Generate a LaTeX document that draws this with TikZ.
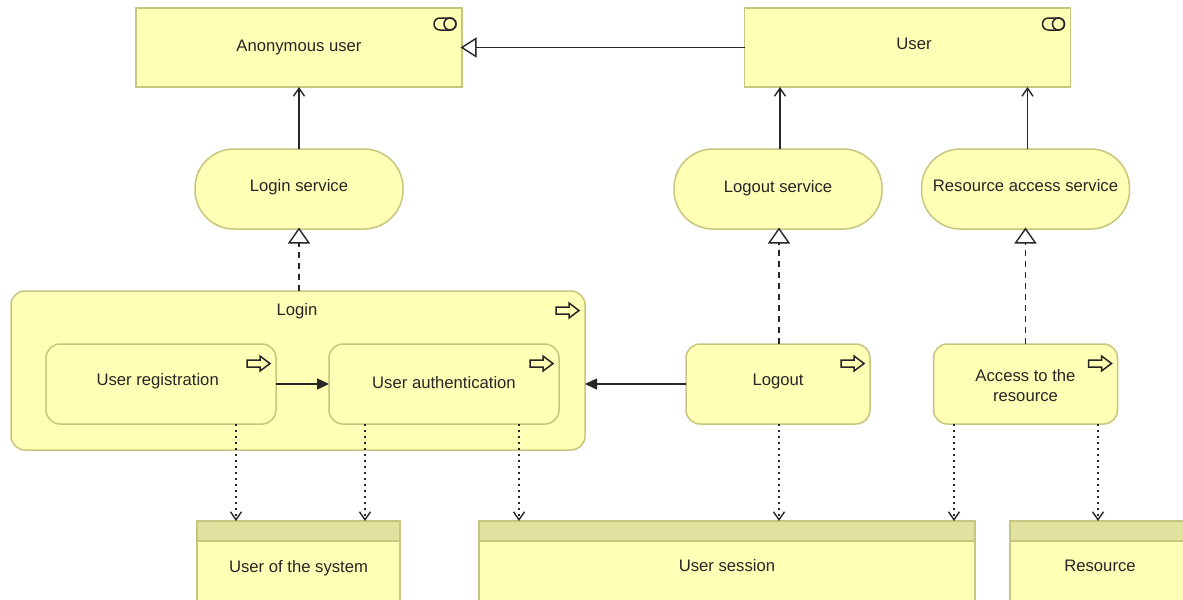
\documentclass[tikz,border=0pt]{standalone}
\usepackage{fontspec}
\setmainfont{Liberation Sans}
\usetikzlibrary{arrows.meta}
\definecolor{boxfill}{HTML}{FFFFB5}
\definecolor{boxline}{HTML}{C6C67E}
\definecolor{headfill}{HTML}{E1E1A0}
\begin{document}
\begin{tikzpicture}[x=0.75pt,y=-0.75pt]
\pgfmathsetlengthmacro\px{0.75pt};
\tikzset{
  plain/.style = {inner sep = 0, text = black!85, font = \fontsize{12.5}{15}\selectfont},
  box/.style = {plain, draw = boxline, fill = boxfill, line width = 1.5*\px, outer sep = 0, align = center},
  actor/.style = {box, minimum width = 326*\px, minimum height = 79*\px},
  service/.style = {box, rounded corners = 39*\px, minimum width = 208*\px, minimum height = 80*\px},
  process/.style = {box, rounded corners = 14*\px, minimum height = 80*\px},
  dataobj/.style = {box, minimum height = 90*\px},
  wire/.style = {line width = 1.4*\px, black!85},
  usedby/.style = {wire, -{Straight Barb[length = 8*\px, width = 11*\px]}},
  realize/.style = {wire, dash pattern = on 6*\px off 5*\px, shorten > = -1.5*\px, -{Triangle[open, fill = white, length = 16*\px, width = 22*\px]}},
  access/.style = {wire, dash pattern = on 2*\px off 4*\px, -{Straight Barb[length = 8*\px, width = 11*\px]}},
  procarrow/.pic = {\draw [draw = black!85, fill = boxfill, line width = 1.5*\px, line join = miter] (-29,16) -- (-16,16) -- (-16,12) -- (-6,19.5) -- (-16,27) -- (-16,23) -- (-29,23) -- cycle;},
  roleicon/.pic = {\draw [draw = black!85, fill = boxfill, line width = 1.5*\px, rounded corners = 5.9*\px] (-28,10) rectangle (-6,22); \draw [draw = black!85, line width = 1.5*\px] (-12,16) circle [radius = 6];}
}
\clip (0,0) rectangle (1183,600);
\fill [white] (0,0) rectangle (1183,600);
\node [actor] (anon) at (299,47.5) {Anonymous user};
\node [actor] (user) at (907.5,47.5) {};
\node [plain] (usertext) at (914,44) {User};
\node [service, text depth = 5.5pt] (loginsvc) at (299,189) {Login service};
\node [service, text depth = 4.5pt] (logoutsvc) at (778,189) {Logout service};
\node [service, text depth = 6pt] (accesssvc) at (1025.5,189) {Resource access service};
\node [process, minimum width = 574*\px, minimum height = 159*\px] (login) at (298,370.5) {};
\node [plain] (logintext) at (297,311) {Login};
\node [process, minimum width = 230*\px, text depth = 7pt] (registration) at (161,384) {User registration\hspace*{5pt}};
\node [process, minimum width = 230*\px, text depth = 3pt] (authentication) at (444,384) {User authentication};
\node [process, minimum width = 184*\px, text depth = 7pt] (logout) at (778,384) {Logout};
\node [process, minimum width = 184*\px, text height = 27pt] (resaccess) at (1025.5,384) {Access to the\\resource};
\node [dataobj, minimum width = 203*\px, text height = 12pt] (sysuser) at (298.5,566) {User of the system};
\node [dataobj, minimum width = 496*\px] (session) at (727,566) {User session};
\node [dataobj, minimum width = 180*\px] (resource) at (1100,566) {Resource};
\foreach \n in {sysuser,session,resource} \draw [fill = headfill, draw = boxline, line width = 1.5*\px] (\n.north west) rectangle ([yshift = -20*\px]\n.north east);
\foreach \n in {login,registration,authentication,logout,resaccess} \pic at (\n.north east) {procarrow};
\foreach \n in {anon,user} \pic at (\n.north east) {roleicon};
\draw [wire, shorten > = -1.5*\px, -{Triangle[open, fill = white, length = 16*\px, width = 20*\px]}] (user.west) -- (anon.east);
\draw [usedby] (loginsvc.north) -- (anon.south);
\draw [usedby] ([xshift = 2*\px]logoutsvc.north) -- ([xshift = 2*\px]logoutsvc.north |- user.south);
\draw [usedby] ([xshift = 2*\px]accesssvc.north) -- ([xshift = 2*\px]accesssvc.north |- user.south);
\draw [realize] (login.north -| loginsvc.south) -- (loginsvc.south);
\draw [realize] ([xshift = 1*\px]logout.north) -- ([xshift = 1*\px]logoutsvc.south);
\draw [realize] (resaccess.north) -- (accesssvc.south);
\draw [wire, -{Triangle[length = 12*\px, width = 11*\px]}] (registration.east) -- (authentication.west);
\draw [wire, -{Triangle[length = 12*\px, width = 11*\px]}] (logout.west) -- (logout.west -| login.east);
\draw [access] ([xshift = 75*\px]registration.south) -- ([xshift = 75*\px]registration.south |- sysuser.north);
\draw [access] ([xshift = -79*\px]authentication.south) -- ([xshift = -79*\px]authentication.south |- sysuser.north);
\draw [access] ([xshift = 75*\px]authentication.south) -- ([xshift = 75*\px]authentication.south |- session.north);
\draw [access] ([xshift = 1*\px]logout.south) -- ([xshift = 1*\px]logout.south |- session.north);
\draw [access] ([xshift = -71.5*\px]resaccess.south) -- ([xshift = -71.5*\px]resaccess.south |- session.north);
\draw [access] ([xshift = 72.5*\px]resaccess.south) -- ([xshift = 72.5*\px]resaccess.south |- resource.north);
\end{tikzpicture}
\end{document}
